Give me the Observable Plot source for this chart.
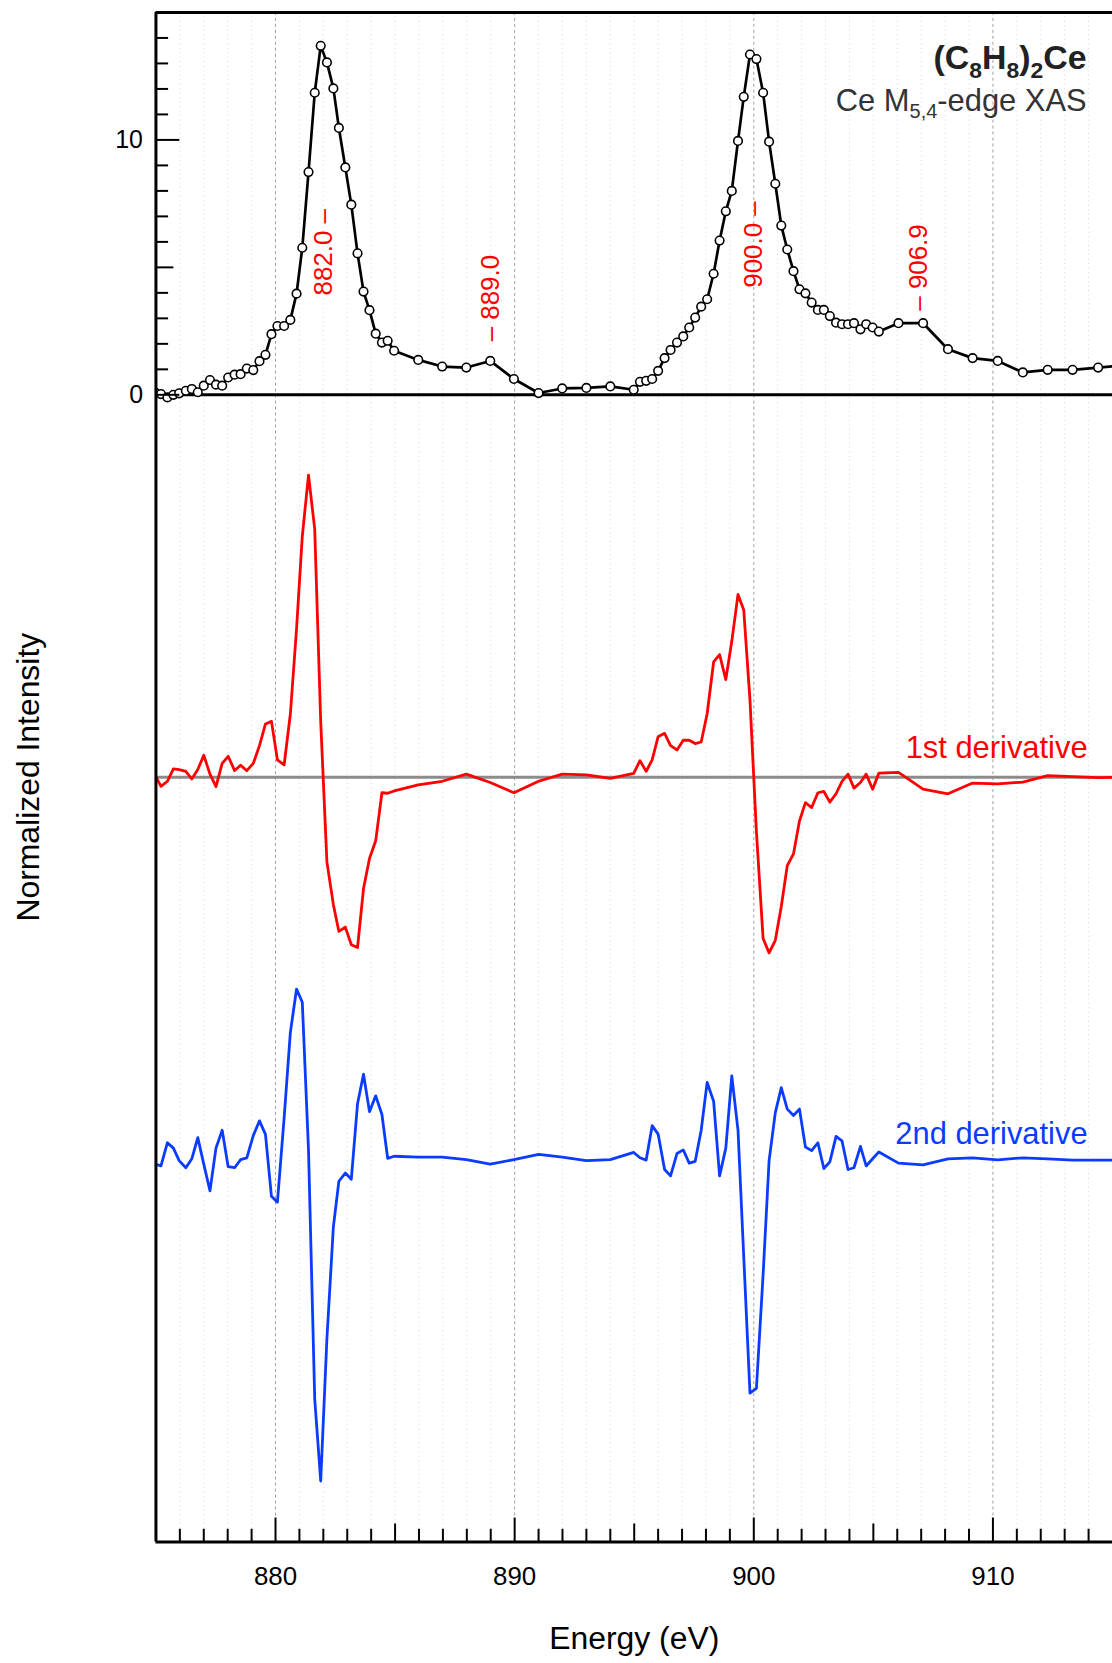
<!DOCTYPE html>
<html><head><meta charset="utf-8">
<script src="https://cdn.jsdelivr.net/npm/d3@7"></script>
<script src="https://cdn.jsdelivr.net/npm/@observablehq/plot@0.6"></script>
<style>
html,body{margin:0;padding:0;background:#fff;overflow:hidden;width:1112px;height:1663px;}
svg{display:block}
</style></head><body><div id="chart"></div>
<script>
// ---- data ----
const energy = [
  874.96, 875.21, 875.48, 875.73, 875.97, 876.25, 876.5, 876.75, 877.0, 877.26,
  877.51, 877.77, 878.02, 878.29, 878.54, 878.8, 879.07, 879.33, 879.58, 879.83,
  880.08, 880.36, 880.62, 880.88, 881.12, 881.38, 881.64, 881.89, 882.15, 882.42,
  882.65, 882.92, 883.17, 883.43, 883.68, 883.93, 884.19, 884.45, 884.69, 884.96,
  885.97, 886.97, 887.98, 888.98, 889.97, 891.0, 891.99, 893.0, 894.0,
  894.98, 895.24, 895.5, 895.75, 896.0, 896.27, 896.52, 896.79, 897.05, 897.3,
  897.55, 897.8, 898.05, 898.32, 898.57, 898.83, 899.08, 899.34, 899.58, 899.84,
  900.11, 900.39, 900.64, 900.9, 901.15, 901.4, 901.66, 901.91, 902.16, 902.42,
  902.68, 902.93, 903.18, 903.44, 903.69, 903.94, 904.19, 904.46, 904.7, 904.97,
  905.23,
  906.05, 907.08, 908.12, 909.15, 910.2, 911.25, 912.29, 913.33, 914.4, 915.4
];
const intensity = [
  0.10, 0.03, -0.10, 0.00, 0.06, 0.16, 0.23, 0.10, 0.36, 0.58,
  0.40, 0.36, 0.68, 0.79, 0.81, 1.03, 0.97, 1.32, 1.57, 2.38,
  2.70, 2.70, 2.94, 3.97, 5.77, 8.74, 11.85, 13.69, 13.04, 12.02,
  10.47, 8.92, 7.46, 5.55, 4.05, 3.32, 2.40, 2.05, 2.12, 1.73,
  1.37, 1.11, 1.07, 1.33, 0.62, 0.07, 0.25, 0.27, 0.33,
  0.20, 0.51, 0.55, 0.62, 0.94, 1.44, 1.76, 2.05, 2.29, 2.64,
  3.03, 3.46, 3.75, 4.75, 6.05, 7.20, 8.00, 9.96, 11.69, 13.35,
  13.17, 11.85, 9.93, 8.28, 6.64, 5.70, 4.85, 4.14, 3.98, 3.62,
  3.33, 3.33, 3.09, 2.83, 2.77, 2.77, 2.81, 2.57, 2.77, 2.64,
  2.48,
  2.81, 2.81, 1.79, 1.44, 1.33, 0.88, 0.98, 0.98, 1.07, 1.15
];
const deriv1 = [
  0.09, -0.36, -0.16, 0.33, 0.30, 0.23, -0.07, 0.30, 0.86, 0.12,
  -0.37, 0.54, 0.82, 0.26, 0.47, 0.26, 0.54, 1.24, 2.09, 2.19,
  0.68, 0.48, 2.47, 5.82, 9.45, 11.85, 9.73, 2.19, -3.33, -5.00,
  -6.05, -5.88, -6.57, -6.68, -4.37, -3.19, -2.49, -0.61, -0.63, -0.54,
  -0.30, -0.16, 0.12, -0.21, -0.61, -0.16, 0.12, 0.09, -0.05,
  0.15, 0.65, 0.23, 0.68, 1.59, 1.72, 1.24, 1.07, 1.45, 1.45,
  1.32, 1.38, 2.49, 4.52, 4.81, 3.83, 5.33, 7.17, 6.56, 3.03,
  -2.14, -6.33, -6.89, -6.40, -5.07, -3.47, -3.01, -1.72, -1.00, -1.19,
  -0.61, -0.56, -0.98, -0.65, -0.16, 0.12, -0.43, -0.21, 0.12, -0.47,
  0.16,
  0.19, -0.47, -0.65, -0.23, -0.26, -0.19, 0.06, 0.02, -0.02, 0.00
];
const deriv2 = [
  -0.18, -0.25, 0.66, 0.45, -0.04, -0.32, 0.03, 0.86, -0.18, -1.23,
  0.45, 1.15, -0.28, -0.32, 0.00, 0.07, 0.94, 1.52, 0.99, -1.44,
  -1.67, 1.63, 4.98, 6.69, 6.17, 0.38, -9.40, -12.61, -7.02, -2.63,
  -0.85, -0.53, -0.77, 2.19, 3.35, 1.88, 2.50, 1.77, 0.05, 0.13,
  0.10, 0.10, 0.00, -0.18, 0.00, 0.20, 0.10, -0.04, 0.00,
  0.28, 0.07, -0.02, 1.33, 1.00, -0.39, -0.64, 0.24, 0.38, -0.14,
  -0.07, 1.15, 3.03, 2.29, -0.64, 0.45, 3.28, 1.15, -3.81, -9.16,
  -8.98, -4.51, -0.04, 1.84, 2.82, 1.98, 1.73, 1.98, 0.49, 0.35,
  0.66, -0.35, -0.09, 0.91, 0.73, -0.39, -0.32, 0.52, -0.25, 0.03,
  0.30,
  -0.14, -0.21, 0.03, 0.07, -0.01, 0.07, 0.03, -0.02, -0.02, -0.02
];
const peakEnergy = [882.0, 889.0, 900.0, 906.9];
const peakText = ["882.0 \u2013", "\u2013 889.0", "900.0 \u2013", "\u2013 906.9"];
const peakLabelLevel = [3.9, 2.1, 4.2, 3.3];
const seriesLabels = ["1st derivative", "2nd derivative"];
const xTickLabels = [880, 890, 900, 910];
const yTickLabels = [0, 10];
const titleText = "(C8H8)2Ce";
const subtitleText = "Ce M5,4-edge XAS";
const xLabel = "Energy (eV)";
const yLabel = "Normalized Intensity";

// ---- layout ----
const W = 1116, H = 1663, ML = 156, MR = 0, MT = 12, MB = 116;
const FW = W - ML - MR, FH = H - MT - MB;
const D1_BASE = -15, D2_BASE = -30;
const RED = "#ff0000", BLUE = "#0a3cff";

const rows = energy.map((e, i) => ({e, v: intensity[i], d1: deriv1[i], d2: deriv2[i]}));
const peaks = peakEnergy.map((e, i) => ({e, t: peakText[i], y: peakLabelLevel[i]}));

const allX = d3.range(876, 915);
const gridMinor = allX.filter(v => v % 10 !== 0);
const xMinorTicks = allX.filter(v => v % 5 !== 0);
const xMidTicks = allX.filter(v => v % 5 === 0 && v % 10 !== 0);
const yAll = d3.range(1, 15);
const yMinorTicks = yAll.filter(v => v % 5 !== 0);
const yMidTicks = yAll.filter(v => v % 5 === 0 && v % 10 !== 0);

const svg = Plot.plot({
  width: W, height: H,
  marginLeft: ML, marginRight: MR, marginTop: MT, marginBottom: MB,
  style: {fontFamily: "'Liberation Sans', Arial, Helvetica, sans-serif", background: "white", color: "black"},
  x: {domain: [875, 915], axis: null},
  y: {domain: [-45, 15], axis: null},
  marks: [
    Plot.ruleX(gridMinor, {x: d => d, stroke: "#d6d6d6", strokeWidth: 1, strokeDasharray: "1,3.5"}),
    Plot.ruleX(xTickLabels, {x: d => d, stroke: "#a0a0a0", strokeWidth: 1, strokeDasharray: "3,3"}),
    Plot.ruleY([0], {stroke: "black", strokeWidth: 3}),
    Plot.ruleY([D1_BASE], {stroke: "#8c8c8c", strokeWidth: 3}),
    Plot.line(rows, {x: "e", y: d => d.d1 + D1_BASE, stroke: RED, strokeWidth: 2.8, clip: true}),
    Plot.line(rows, {x: "e", y: d => d.d2 + D2_BASE, stroke: BLUE, strokeWidth: 2.8, clip: true}),
    Plot.line(rows, {x: "e", y: "v", stroke: "black", strokeWidth: 2.7, clip: true}),
    Plot.dot(rows, {x: "e", y: "v", r: 4.3, fill: "white", stroke: "black", strokeWidth: 1.6, clip: true}),
    Plot.text(peaks, {x: "e", y: "y", text: "t", rotate: -90, textAnchor: "start", lineAnchor: "middle", fill: RED, fontSize: 26}),
    Plot.text([seriesLabels[0]], {frameAnchor: "right", y: () => D1_BASE, dx: -25, dy: -29.5, textAnchor: "end", lineAnchor: "middle", fill: RED, fontSize: 31}),
    Plot.text([seriesLabels[1]], {frameAnchor: "right", y: () => D2_BASE, dx: -25, dy: -25.5, textAnchor: "end", lineAnchor: "middle", fill: BLUE, fontSize: 31}),
    Plot.text([titleText], {frameAnchor: "top-right", dx: -26, dy: 33, textAnchor: "end", lineAnchor: "top", fontSize: 34, fontWeight: "bold", fill: "#222"}),
    Plot.text([subtitleText], {frameAnchor: "top-right", dx: -26, dy: 77, textAnchor: "end", lineAnchor: "top", fontSize: 31, fill: "#333"}),
    // axes
    Plot.ruleX([875], {stroke: "black", strokeWidth: 3}),
    Plot.ruleY([15], {stroke: "black", strokeWidth: 3}),
    Plot.ruleY([-45], {stroke: "black", strokeWidth: 3}),
    Plot.tickX(xMinorTicks, {x: d => d, insetTop: FH - 12.7, stroke: "black", strokeWidth: 2}),
    Plot.tickX(xMidTicks, {x: d => d, insetTop: FH - 18, stroke: "black", strokeWidth: 2}),
    Plot.tickX(xTickLabels, {x: d => d, insetTop: FH - 24, stroke: "black", strokeWidth: 2}),
    Plot.tickY(yMinorTicks, {y: d => d, insetRight: FW - 12.7, stroke: "black", strokeWidth: 2}),
    Plot.tickY(yMidTicks, {y: d => d, insetRight: FW - 18, stroke: "black", strokeWidth: 2}),
    Plot.tickY(yTickLabels, {y: d => d, insetRight: FW - 24, stroke: "black", strokeWidth: 2}),
    Plot.text(xTickLabels, {x: d => d, frameAnchor: "bottom", dy: 25, lineAnchor: "top", fontSize: 26, fill: "black"}),
    Plot.text(yTickLabels, {y: d => d, frameAnchor: "left", dx: -13, textAnchor: "end", lineAnchor: "middle", fontSize: 25, fill: "black"}),
    Plot.text([xLabel], {frameAnchor: "bottom", dy: 97, lineAnchor: "middle", fontSize: 32, fill: "black"}),
    Plot.text([yLabel], {frameAnchor: "left", dx: -128, rotate: -90, textAnchor: "middle", lineAnchor: "middle", fontSize: 32, fill: "black"})
  ]
});

// subscripts in title / subtitle (real text, split into tspans)
const NS = "http://www.w3.org/2000/svg";
function withSubs(el, parts, subSize, shift) {
  el.textContent = "";
  let down = false;
  for (const [s, sub] of parts) {
    const t = document.createElementNS(NS, "tspan");
    t.textContent = s;
    if (sub) { t.setAttribute("font-size", subSize); if (!down) { t.setAttribute("dy", shift); down = true; } }
    else if (down) { t.setAttribute("dy", -shift); down = false; }
    el.appendChild(t);
  }
}
for (const t of svg.querySelectorAll("text")) {
  if (t.textContent === titleText) {
    withSubs(t, [["(C", 0], ["8", 1], ["H", 0], ["8", 1], [")", 0], ["2", 1], ["Ce", 0]], 23, 9);
  } else if (t.textContent === subtitleText) {
    withSubs(t, [["Ce M", 0], ["5,4", 1], ["-edge XAS", 0]], 20, 7);
  }
}
document.getElementById("chart").appendChild(svg);
</script>
</body></html>
